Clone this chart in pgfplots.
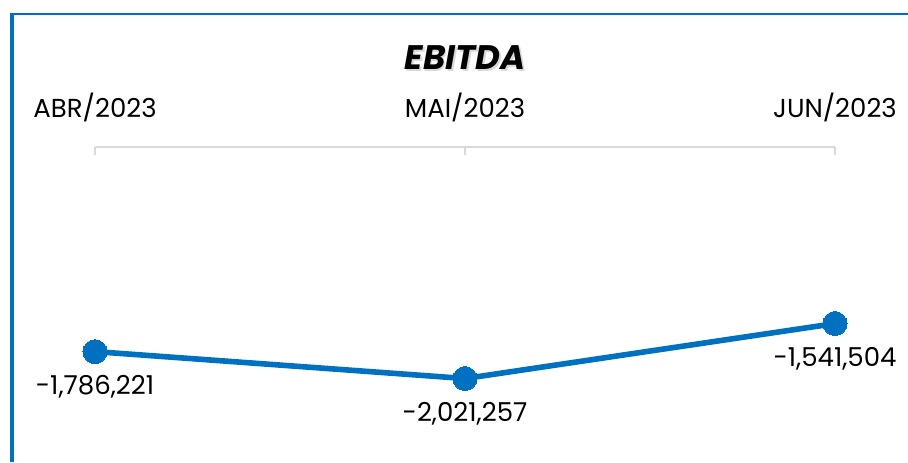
\documentclass[border=0pt]{standalone}
\usepackage{fontspec}
\setmainfont{Poppins}
\usepackage{pgfplots}
\usepackage{pgfplotstable}
\pgfplotsset{compat=1.18}
\definecolor{lineblue}{HTML}{0070C0}
\definecolor{axisgray}{HTML}{D9D9D9}

% EBITDA per month; lab = label shown under each point
\pgfplotstableread{
x y lab
0 -1786221 -1,786,221
1 -2021257 -2,021,257
2 -1541504 -1,541,504
}\ebitda

\begin{document}
\begin{tikzpicture}
\path[use as bounding box] (0,0) rectangle (454pt,231pt);
% frame (left and top)
\draw[lineblue, line width=1.8pt] (5.9pt,0) -- (5.9pt,224.4pt);
\draw[lineblue, line width=1pt] (5pt,224pt) -- (454pt,224pt);
% title with a soft shadow
\node[text=black!15] at (233.4pt,201.1pt) {\fontsize{17}{19}\selectfont\bfseries\itshape EBITDA};
\node at (232.5pt,202pt) {\fontsize{17}{19}\selectfont\bfseries\itshape EBITDA};
\begin{axis}[
  at={(47.5pt,0pt)}, anchor=south west,
  scale only axis,
  width=370pt, height=157.5pt,
  xmin=0, xmax=2,
  ymin=-2750000, ymax=0,
  axis x line*=top,
  axis y line=none,
  x axis line style={axisgray, line width=0.6pt, -},
  xtick={0,1,2},
  xticklabels={ABR/2023, MAI/2023, JUN/2023},
  tick align=inside,
  major tick length=4pt,
  xtick style={axisgray, line width=0.6pt},
  xticklabel style={font=\fontsize{13}{15}\selectfont, anchor=base, yshift=15pt},
  clip=false,
  nodes near coords,
  point meta=explicit symbolic,
  every node near coord/.style={anchor=center, yshift=-17.5pt, font=\fontsize{13}{15}\selectfont, text=black},
]
\addplot[lineblue, line width=2.8pt, mark=*, mark size=6pt, mark options={fill=lineblue, draw=lineblue, line width=0pt}]
  table[x=x, y=y, meta=lab] {\ebitda};
\end{axis}
\end{tikzpicture}
\end{document}
